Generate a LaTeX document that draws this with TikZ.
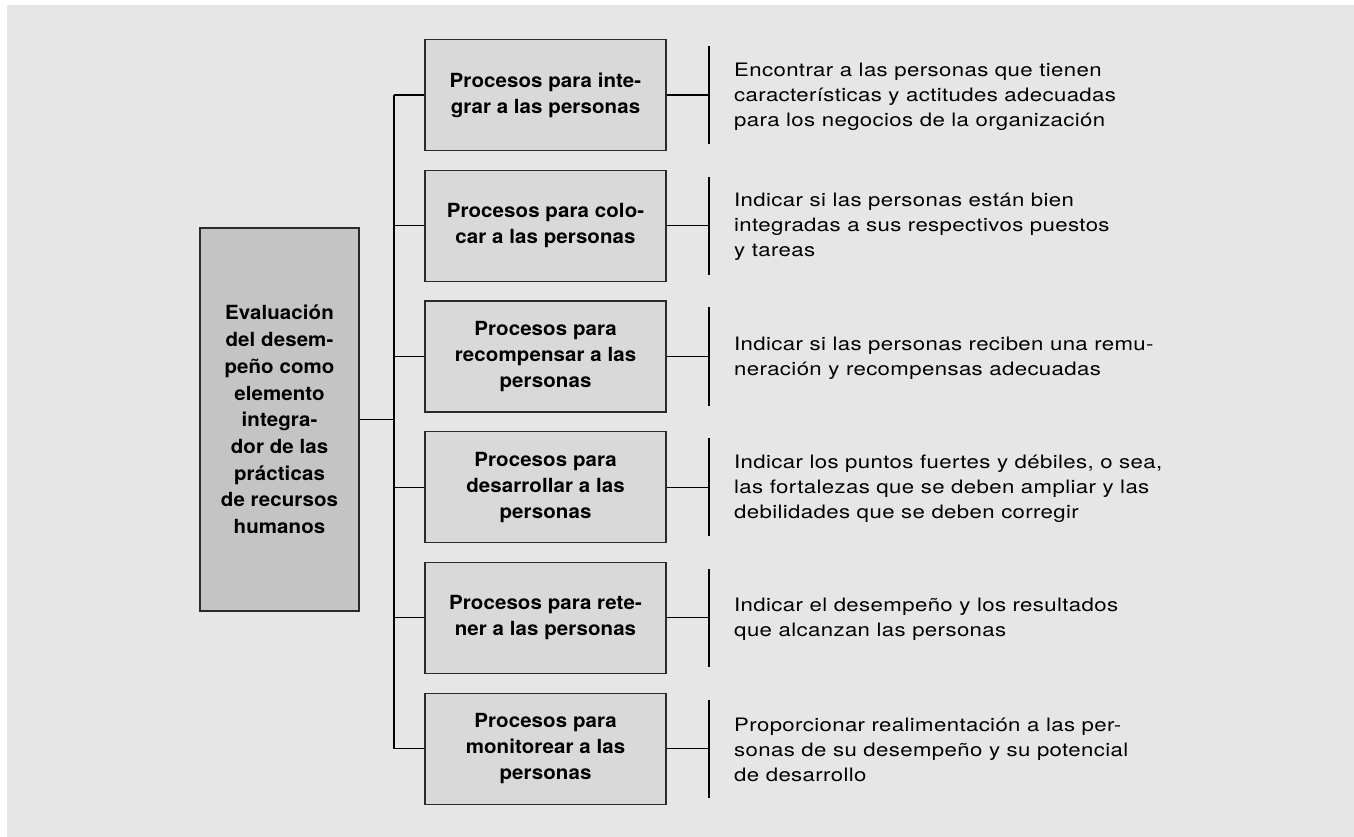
\documentclass[tikz,border=0pt]{standalone}
\usepackage{fontspec}
\setmainfont{TeX Gyre Heros}
\newfontfamily\descfont{TeX Gyre Heros}[FakeStretch=1.2,LetterSpace=2]
\newfontfamily\boxfont{TeX Gyre Heros}[FakeStretch=1.05,LetterSpace=0.5]
\usetikzlibrary{calc}
\definecolor{bg}{HTML}{E6E6E6}
\definecolor{mainfill}{HTML}{C4C4C4}
\definecolor{procfill}{HTML}{D9D9D9}
\definecolor{edge}{HTML}{2A2A2A}
\begin{document}
\begin{tikzpicture}[x=1pt,y=-1pt,
  mainbox/.style={draw=edge, line width=1.2pt, fill=mainfill, minimum width=159pt, minimum height=383pt, inner sep=0pt, align=center, font=\boxfont\bfseries\fontsize{19.5}{26.7}\selectfont},
  procbox/.style={draw=edge, line width=1.2pt, fill=procfill, minimum width=241pt, minimum height=111pt, inner sep=0pt, align=center, font=\boxfont\bfseries\fontsize{19.5}{26}\selectfont},
  desc/.style={anchor=west, align=left, inner sep=0pt, font=\descfont\fontsize{18.5}{25}\selectfont},
  link/.style={draw=black, line width=1.2pt}]
\useasboundingbox (0,0) rectangle (1354,837);
\fill[white] (0,0) rectangle (1354,837);
\fill[bg] (7,5) rectangle (1354,837);

\node[mainbox] (m) at (279.5,419.5) {Evaluación\\del desem-\\peño como\\elemento\\integra-\\dor de las\\prácticas\\de recursos\\humanos};

\node[procbox] (p1) at (545.5,95) {Procesos para inte-\\grar a las personas};
\node[procbox] (p2) at (545.5,225.7) {Procesos para colo-\\car a las personas};
\node[procbox] (p3) at (545.5,356.5) {Procesos para\\recompensar a las\\personas};
\node[procbox] (p4) at (545.5,487.2) {Procesos para\\desarrollar a las\\personas};
\node[procbox] (p5) at (545.5,617.8) {Procesos para rete-\\ner a las personas};
\node[procbox] (p6) at (545.5,748.7) {Procesos para\\monitorear a las\\personas};

\node[desc] (d1) at (734,97) {Encontrar a las personas que tienen\\características y actitudes adecuadas\\para los negocios de la organización};
\node[desc] (d2) at (734,227) {Indicar si las personas están bien\\integradas a sus respectivos puestos\\y tareas};
\node[desc] (d3) at (734,358) {Indicar si las personas reciben una remu-\\neración y recompensas adecuadas};
\node[desc] (d4) at (734,489) {Indicar los puntos fuertes y débiles, o sea,\\las fortalezas que se deben ampliar y las\\debilidades que se deben corregir};
\node[desc] (d5) at (734,619) {Indicar el desempeño y los resultados\\que alcanzan las personas};
\node[desc] (d6) at (734,750) {Proporcionar realimentación a las per-\\sonas de su desempeño y su potencial\\de desarrollo};

\coordinate (bt) at (394,95);
\coordinate (bb) at (394,748.7);
\coordinate (tx) at (709,0);
\draw[link] (bt) -- (bb);
\draw[link] (m.east) -- (m.east -| bt);
\foreach \i in {1,...,6}{
  \coordinate (ta\i) at ($(p\i.north -| tx)+(0,7)$);
  \coordinate (tb\i) at ($(p\i.south -| tx)+(0,-7)$);
  \draw[link] (p\i.west -| bt) -- (p\i.west);
  \draw[link] (p\i.east) -- (p\i.east -| tx);
  \draw[link] (ta\i) -- (tb\i);
}
\end{tikzpicture}
\end{document}
